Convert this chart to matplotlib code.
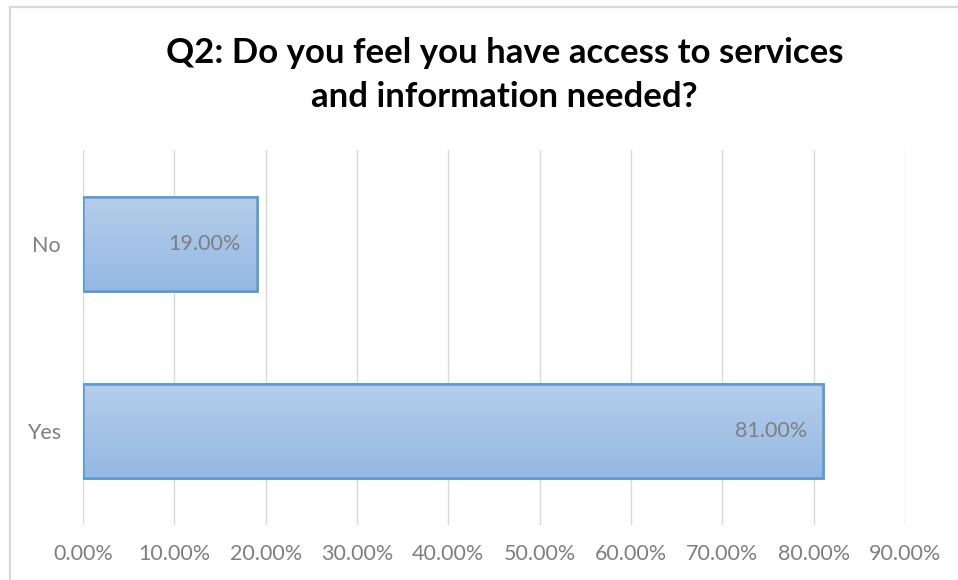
import matplotlib
matplotlib.use("Agg")
import matplotlib.pyplot as plt
import numpy as np
from matplotlib.colors import LinearSegmentedColormap
from matplotlib.patches import Rectangle
from matplotlib.ticker import FuncFormatter, MultipleLocator

# data
categories = ["Yes", "No"]
shares = [81.0, 19.0]
title = "Q2: Do you feel you have access to services\nand information needed?"

plt.rcParams["font.family"] = ["Lato", "DejaVu Sans"]

fig = plt.figure(figsize=(9.58, 5.8), dpi=100)
ax = fig.add_axes([0.0866, 0.0948, 0.8581, 0.6466])

# outer chart border (only top/left visible in the crop)
fig.patches.append(Rectangle((10 / 958, -0.1), 1.2, 1 - 7 / 580 + 0.1,
                             transform=fig.transFigure, fill=False,
                             edgecolor="#d9d9d9", linewidth=1.6))

y = np.arange(len(categories))
bars = ax.barh(y, shares, height=0.5, color="#a6c3e7", edgecolor="#5b9bd5",
               linewidth=1.8, zorder=3)

grad = LinearSegmentedColormap.from_list("g", ["#94b9e3", "#b5cdea"])
for bar in bars:
    x0, y0 = bar.get_x(), bar.get_y()
    w, h = bar.get_width(), bar.get_height()
    img = ax.imshow(np.linspace(0, 1, 64).reshape(-1, 1), cmap=grad,
                    extent=[x0, x0 + w, y0, y0 + h], origin="lower",
                    aspect="auto", zorder=3.5)
    img.set_clip_path(bar)
    ax.add_patch(Rectangle((x0, y0), w, h, fill=False, edgecolor="#5b9bd5",
                           linewidth=1.8, zorder=4))

for val, yy in zip(shares, y):
    ax.text(val - 1.7, yy, f"{val:.2f}%", ha="right", va="center",
            fontsize=15.5, color="#7f7f7f", zorder=5)

ax.set_xlim(0, 90)
ax.set_ylim(-0.5, 1.5)
ax.xaxis.set_major_locator(MultipleLocator(10))
ax.xaxis.set_major_formatter(FuncFormatter(lambda v, _: f"{v:.2f}%"))
ax.set_yticks(y)
ax.set_yticklabels(categories)
ax.grid(axis="x", color="#d9d9d9", linewidth=1.0, zorder=0)
ax.set_axisbelow(True)
for s in ax.spines.values():
    s.set_visible(False)
ax.tick_params(axis="both", length=0, labelsize=15.5, labelcolor="#7f7f7f")
ax.tick_params(axis="x", pad=14)
ax.tick_params(axis="y", pad=16)

fig.text(0.5266, 0.871, title, ha="center", va="center", fontsize=25,
         fontweight="bold", color="#000000", linespacing=1.45)

fig.savefig("out.png", dpi=100)
